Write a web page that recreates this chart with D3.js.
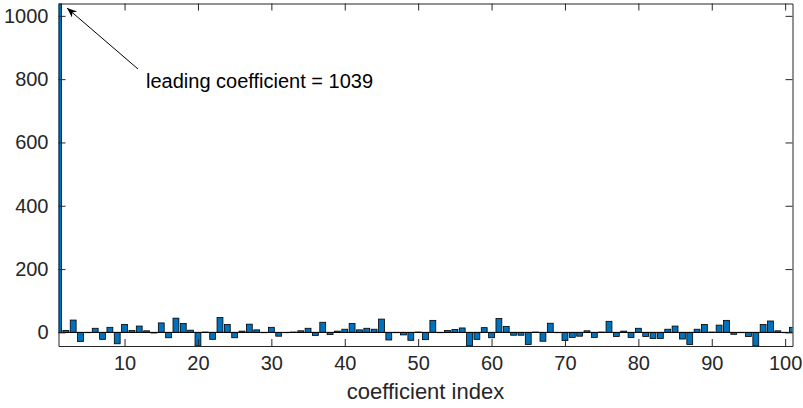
<!DOCTYPE html>
<html>
<head>
<meta charset="utf-8">
<script src="https://cdn.jsdelivr.net/npm/d3@7"></script>
<style>
  body { margin: 0; background: #fff; }
  text { font-family: "Liberation Sans", Arial, sans-serif; }
</style>
</head>
<body>
<div id="canvas"></div>
<script>
// coefficient values, index 1..101
let coefValues = [
  1039, 6, 39, -29, -1, 13, -22, 16, -36, 25,
  6, 20, 5, -2, 30, -17, 45, 28, 7, -43,
  1, -22, 47, 25, -17, 4, 26, 8, -1, 16,
  -12, -1, 1, 5, 13, -10, 32, -7, 4, 10,
  28, 8, 13, 10, 42, -24, -1, -8, -25, 1,
  -23, 38, -1, 6, 9, 14, -42, -22, 15, -17,
  44, 19, -9, -9, -38, 1, -28, 29, -1, -26,
  -16, -12, 5, -16, 1, 35, -13, 4, -16, 13,
  -13, -19, -19, 10, 20, -21, -38, 10, 25, 1,
  23, 38, -6, -1, -13, -43, 25, 36, 5, -1,
  16
]
let xTicks = [10, 20, 30, 40, 50, 60, 70, 80, 90, 100]
let yTicks = [0, 200, 400, 600, 800, 1000]
let xLabel = "coefficient index"
let noteText = "leading coefficient = 1039"

window.onload = function (){ setup() }

function setup(){
  let width = 803, height = 408
  let left = 58.5, right = 792.5, top = 3.5, bottom = 346
  let axisColor = "#262626"

  let data = coefValues.map((v, i) => ({ index: i + 1, value: v }))

  let svg = d3.select("#canvas")
    .append("svg")
    .attr("width", width)
    .attr("height", height)

  let x = d3.scaleLinear().domain([1, 101]).range([left, right])
  let y = d3.scaleLinear().domain([d3.min(coefValues), d3.max(coefValues)]).range([bottom, top])

  svg.append("clipPath").attr("id", "plotclip")
    .append("rect")
    .attr("x", left).attr("y", top)
    .attr("width", right - left).attr("height", bottom - top)

  let barWidth = (x(2) - x(1)) * 0.8
  let plot = svg.append("g").attr("clip-path", "url(#plotclip)")

  plot.selectAll("rect.bar")
    .data(data)
    .join("rect")
    .attr("class", "bar")
    .attr("x", d => x(d.index) - barWidth / 2)
    .attr("y", d => y(Math.max(0, d.value)))
    .attr("width", barWidth)
    .attr("height", d => Math.abs(y(d.value) - y(0)))
    .attr("fill", "#0072BD")
    .attr("stroke", "#000")
    .attr("stroke-width", 0.8)

  // baseline
  plot.append("line")
    .attr("x1", left).attr("x2", right)
    .attr("y1", y(0)).attr("y2", y(0))
    .attr("stroke", "#000")
    .attr("stroke-width", 1)

  function styleAxis(g){
    g.selectAll("path, line").attr("stroke", axisColor)
    g.selectAll("text")
      .attr("fill", axisColor)
      .style("font-size", "20px")
      .style("font-family", "'Liberation Sans', Arial, sans-serif")
  }

  let fmt = d3.format("d")

  svg.append("g")
    .attr("transform", `translate(0,${bottom})`)
    .call(d3.axisBottom(x).tickValues(xTicks).tickFormat(fmt).tickSizeInner(-7).tickSizeOuter(0).tickPadding(10))
    .call(styleAxis)

  svg.append("g")
    .attr("transform", `translate(0,${top})`)
    .call(d3.axisTop(x).tickValues(xTicks).tickSizeInner(-7).tickSizeOuter(0).tickFormat(""))
    .call(styleAxis)

  svg.append("g")
    .attr("transform", `translate(${left},0)`)
    .call(d3.axisLeft(y).tickValues(yTicks).tickFormat(fmt).tickSizeInner(-7).tickSizeOuter(0).tickPadding(10))
    .call(styleAxis)

  svg.append("g")
    .attr("transform", `translate(${right},0)`)
    .call(d3.axisRight(y).tickValues(yTicks).tickSizeInner(-7).tickSizeOuter(0).tickFormat(""))
    .call(styleAxis)

  svg.selectAll(".domain").attr("stroke", axisColor)

  svg.append("text")
    .attr("x", (left + right) / 2)
    .attr("y", 399)
    .attr("text-anchor", "middle")
    .attr("fill", axisColor)
    .style("font-size", "22px")
    .text(xLabel)

  // annotation arrow
  svg.append("defs").append("marker")
    .attr("id", "arrowhead")
    .attr("viewBox", "0 0 10 10")
    .attr("refX", 10).attr("refY", 5)
    .attr("markerWidth", 10).attr("markerHeight", 10)
    .attr("markerUnits", "userSpaceOnUse")
    .attr("orient", "auto")
    .append("path")
    .attr("d", "M0,1 L10,5 L0,9 L3,5 Z")
    .attr("fill", "#000")

  svg.append("line")
    .attr("x1", 138).attr("y1", 69)
    .attr("x2", 67).attr("y2", 8)
    .attr("stroke", "#000")
    .attr("stroke-width", 1)
    .attr("marker-end", "url(#arrowhead)")

  svg.append("text")
    .attr("x", 146)
    .attr("y", 88)
    .attr("fill", "#000")
    .style("font-size", "20px")
    .text(noteText)
}
</script>
</body>
</html>
